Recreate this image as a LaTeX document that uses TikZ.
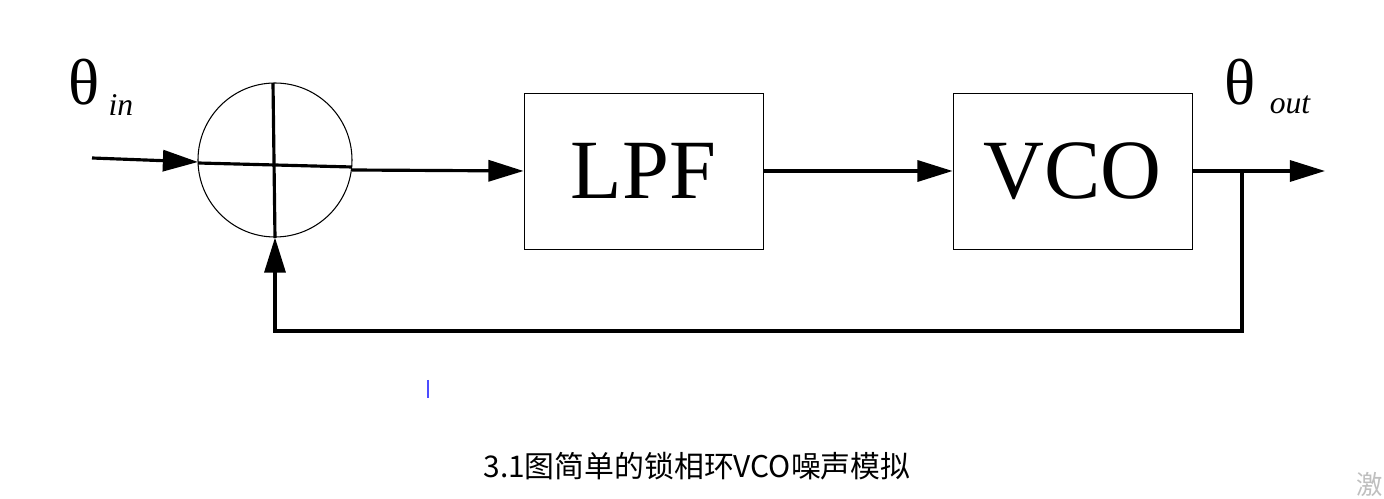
\documentclass[tikz,border=0pt]{standalone}
\usepackage{fontspec}
\setmainfont{Liberation Serif}
\newfontfamily\cjk{Noto Sans CJK SC}
\usetikzlibrary{arrows.meta}
\begin{document}
\begin{tikzpicture}[x=0.02cm,y=-0.02cm,
  sig/.style={line width=1.8pt,-{Triangle[length=20pt,width=12pt]}},
  wire/.style={line width=1.8pt},
  blk/.style={draw,line width=0.5pt,minimum width=239*0.02cm,minimum height=156*0.02cm,inner sep=0pt,font=\fontsize{48}{48}\selectfont}]
\useasboundingbox (0,0) rectangle (1384,499);
\node[draw,circle,line width=0.6pt,minimum size=154*0.02cm,inner sep=0pt] (sum) at (275,160) {};
\draw[wire] (198,163) -- (352,167);
\draw[wire] (273,83) -- (275,238);
\coordinate (in) at (92,158);
\draw[sig] (in) -- (198,162);
\node[blk] (lpf) at (643.5,171) {LPF};
\node[blk] (vco) at (1072.5,171) {VCO};
\draw[sig] (352,170) -- (lpf.west);
\draw[sig] (lpf.east) -- (vco.west);
\coordinate (out) at (1325,171);
\coordinate (br) at (1242,171);
\draw[sig] (vco.east) -- (out);
\draw[sig] (br) -- (1242,331) -- (275,331) -- (sum.south);
\node[font=\fontsize{37}{37}\selectfont] (ti) at (84,82) {θ};
\node[font=\itshape\fontsize{18}{18}\selectfont] (tis) at (121,105) {in};
\node[font=\fontsize{37}{37}\selectfont] (to) at (1240,82) {θ};
\node[font=\itshape\fontsize{18}{18}\selectfont] (tos) at (1290,105) {out};
\draw[blue!70,line width=0.6pt] (428,380) -- (428,398);
\node[font=\cjk\fontsize{17}{17}\selectfont] (cap) at (697,466) {3.1图简单的锁相环VCO噪声模拟};
\node[font=\cjk\fontsize{15}{15}\selectfont,text=gray!50,anchor=west] (wm) at (1350,484) {激};
\end{tikzpicture}
\end{document}
